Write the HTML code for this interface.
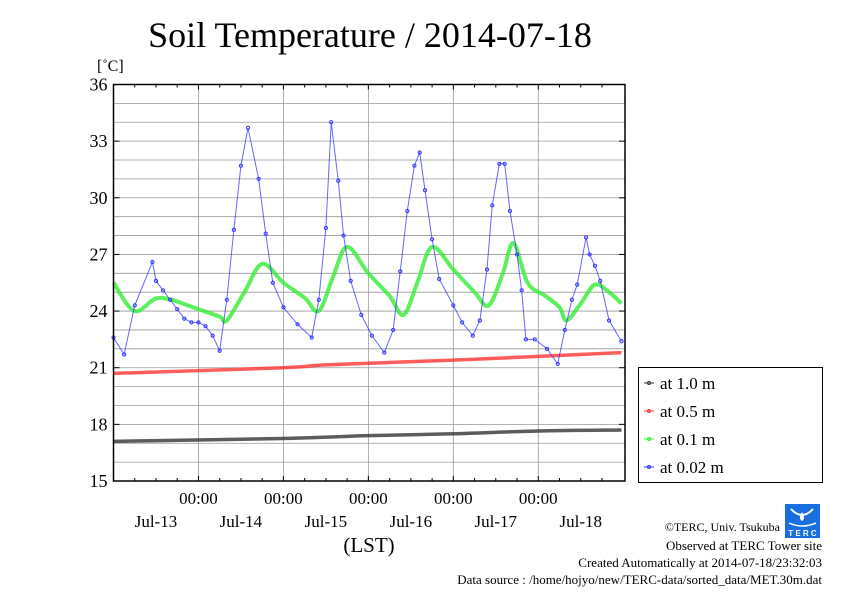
<!DOCTYPE html>
<html><head><meta charset="utf-8"><style>
body{margin:0;background:#fff;}
svg text{font-family:"Liberation Serif",serif;fill:#000;}
</style></head><body>
<svg id="chart" width="842" height="595" viewBox="0 0 842 595" xmlns="http://www.w3.org/2000/svg">
<rect width="842" height="595" fill="#fff"/>
<text x="370" y="47" font-size="36" text-anchor="middle">Soil Temperature / 2014-07-18</text>
<text x="97" y="71" font-size="16">[˚C]</text>
<g id="grid"></g><g id="series"></g><g id="axes"></g>
<text x="369" y="552" font-size="21" text-anchor="middle">(LST)</text>
<g>
<rect x="638.5" y="367.5" width="184" height="115" fill="#fff" stroke="#000" stroke-width="1"/>
<g id="legend"></g>
</g>
<g>
<rect x="785" y="504" width="35" height="34" fill="#1a6fe0"/>
<path d="M791 509 q11 12 22 0" stroke="#fff" stroke-width="2" fill="none"/>
<path d="M802 512 q-4 7 0 9 q4 -2 0 -9z" fill="#fff"/>
<path d="M789 523 q13 6 27 0" stroke="#fff" stroke-width="1.5" fill="none"/>
<text x="802.5" y="536" font-size="8" text-anchor="middle" style="fill:#fff;font-family:'Liberation Sans',sans-serif;font-weight:bold">T E R C</text>
</g>
<g font-size="13">
<text x="780" y="531" text-anchor="end" font-size="12">©TERC, Univ. Tsukuba</text>
<text x="822" y="550" text-anchor="end">Observed at TERC Tower site</text>
<text x="822" y="567" text-anchor="end">Created Automatically at 2014-07-18/23:32:03</text>
<text x="822" y="584" text-anchor="end">Data source : /home/hojyo/new/TERC-data/sorted_data/MET.30m.dat</text>
</g>
</svg>
<script>
const yTicks=[15,18,21,24,27,30,33,36];
const dayLabels=["Jul-13","Jul-14","Jul-15","Jul-16","Jul-17","Jul-18"];
const blueT=[0,3,6,11,12,14,16,18,20,22,24,26,28,30,32,34,36,38,41,43,45,48,52,56,58,60,61.5,63.5,65,67,70,73,76.5,79,81,83,85,86.5,88,90,92,96,98.5,101.5,103.5,105.5,107,109,110.5,112,114,115.3,116.5,119,122.5,125.5,127.5,129.5,131,133.5,134.5,136,137.5,140,143.5];
const blueV=[22.6,21.7,24.3,26.6,25.6,25.1,24.6,24.1,23.6,23.4,23.4,23.2,22.7,21.9,24.6,28.3,31.7,33.7,31.0,28.1,25.5,24.2,23.3,22.6,24.6,28.4,34.0,30.9,28.0,25.6,23.8,22.7,21.8,23.0,26.1,29.3,31.7,32.4,30.4,27.8,25.7,24.3,23.4,22.7,23.5,26.2,29.6,31.8,31.8,29.3,27.0,25.1,22.5,22.5,22.0,21.2,23.0,24.6,25.4,27.9,27.0,26.4,25.6,23.5,22.4];
const greenT=[0,6,13,24,30,32,37,42,48,54,58,62,66,72,78,82,86,90,96,102,106,110,113,117,122,126,128,132,136,140,143.5];
const greenV=[25.5,24.0,24.7,24.1,23.7,23.5,25.0,26.5,25.5,24.7,24.0,25.8,27.4,26.0,24.8,23.8,25.6,27.4,26.2,25.0,24.3,26.0,27.6,25.5,24.8,24.2,23.5,24.4,25.4,25.0,24.4];
const redT=[0,48,60,96,120,143.5];
const redV=[20.7,21.0,21.15,21.4,21.6,21.8];
const blackT=[0,48,72,96,120,143.5];
const blackV=[17.1,17.25,17.4,17.5,17.65,17.7];

const NS="http://www.w3.org/2000/svg";
const L=113.5,R=625,T0=84.5,B=481;
const yMin=15,yMax=36,tMax=144.5;
const X=t=>L+t*(R-L)/tMax;
const Y=v=>B-(v-yMin)*(B-T0)/(yMax-yMin);
function mk(tag,attrs,parent){const e=document.createElementNS(NS,tag);for(const k in attrs)e.setAttribute(k,attrs[k]);parent.appendChild(e);return e;}
const grid=document.getElementById('grid'),axes=document.getElementById('axes'),ser=document.getElementById('series'),leg=document.getElementById('legend');
for(let v=yMin+1;v<yMax;v++){const l=mk('line',{x1:L,x2:R,y1:Y(v),y2:Y(v),stroke:'#999','stroke-width':0.8},grid);

}
for(let d=1;d<6;d++){const l=mk('line',{x1:X(d*24),x2:X(d*24),y1:T0,y2:B,stroke:'#999','stroke-width':0.8},grid);

}
for(let h=6;h<144;h+=6){const big=h%24==0;const len=big?5:3;
mk('line',{x1:X(h),x2:X(h),y1:T0,y2:T0+len,stroke:'#000'},axes);mk('line',{x1:X(h),x2:X(h),y1:B,y2:B-len,stroke:'#000'},axes);}
yTicks.forEach(v=>{mk('line',{x1:L,x2:L+6,y1:Y(v),y2:Y(v),stroke:'#000'},axes);mk('line',{x1:R,x2:R-6,y1:Y(v),y2:Y(v),stroke:'#000'},axes);
const t=mk('text',{x:L-6,y:Y(v)+6,'font-size':18,'text-anchor':'end'},axes);t.textContent=v;

});
mk('rect',{x:L,y:T0,width:R-L,height:B-T0,fill:'none',stroke:'#000','stroke-width':1.5},axes);
dayLabels.forEach((d,i)=>{
if(i>0){const t=mk('text',{x:X(i*24),y:504,'font-size':17,'text-anchor':'middle'},axes);t.textContent='00:00';

}
const t2=mk('text',{x:X(i*24+12),y:527,'font-size':17,'text-anchor':'middle'},axes);t2.textContent=d;

});
function smoothPath(ts,vs){
const p=ts.map((t,i)=>[X(t),Y(vs[i])]);
let d='M'+p[0][0]+','+p[0][1];
for(let i=0;i<p.length-1;i++){
const p0=p[Math.max(0,i-1)],p1=p[i],p2=p[i+1],p3=p[Math.min(p.length-1,i+2)];
const c1=[p1[0]+(p2[0]-p0[0])/6,p1[1]+(p2[1]-p0[1])/6];
const c2=[p2[0]-(p3[0]-p1[0])/6,p2[1]-(p3[1]-p1[1])/6];
d+=' C'+c1[0]+','+c1[1]+' '+c2[0]+','+c2[1]+' '+p2[0]+','+p2[1];}
return d;}
function series(ts,vs,col,width,mr,name,smooth){
const g=mk('g',{},ser);


if(smooth)mk('path',{d:smoothPath(ts,vs),fill:'none',stroke:col,'stroke-width':width,'stroke-opacity':0.8},g);
else mk('polyline',{points:ts.map((t,i)=>X(t)+','+Y(vs[i])).join(' '),fill:'none',stroke:col,'stroke-width':width,'stroke-opacity':0.75},g);
if(mr)ts.forEach((t,i)=>mk('circle',{cx:X(t),cy:Y(vs[i]),r:mr,fill:'none',stroke:col,'stroke-width':1},g));}
series(blackT,blackV,'#333',3.5,0,'series-1.0m',true);
series(redT,redV,'#f33',3.5,0,'series-0.5m',true);
series(greenT,greenV,'#3e3',4,0,'series-0.1m',true);
series(blueT,blueV,'#33f',1,1.6,'series-0.02m',false);
const legItems=[['at 1.0 m','#333'],['at 0.5 m','#f33'],['at 0.1 m','#3e3'],['at 0.02 m','#33f']];
legItems.forEach((it,i)=>{const y=383+i*28;
const g=mk('g',{},leg);


mk('line',{x1:644,x2:654,y1:y,y2:y,stroke:it[1]},g);mk('circle',{cx:649,cy:y,r:1.5,fill:'none',stroke:it[1]},g);
const t=mk('text',{x:660,y:y+6,'font-size':17},g);t.textContent=it[0];});
</script>
</body></html>
